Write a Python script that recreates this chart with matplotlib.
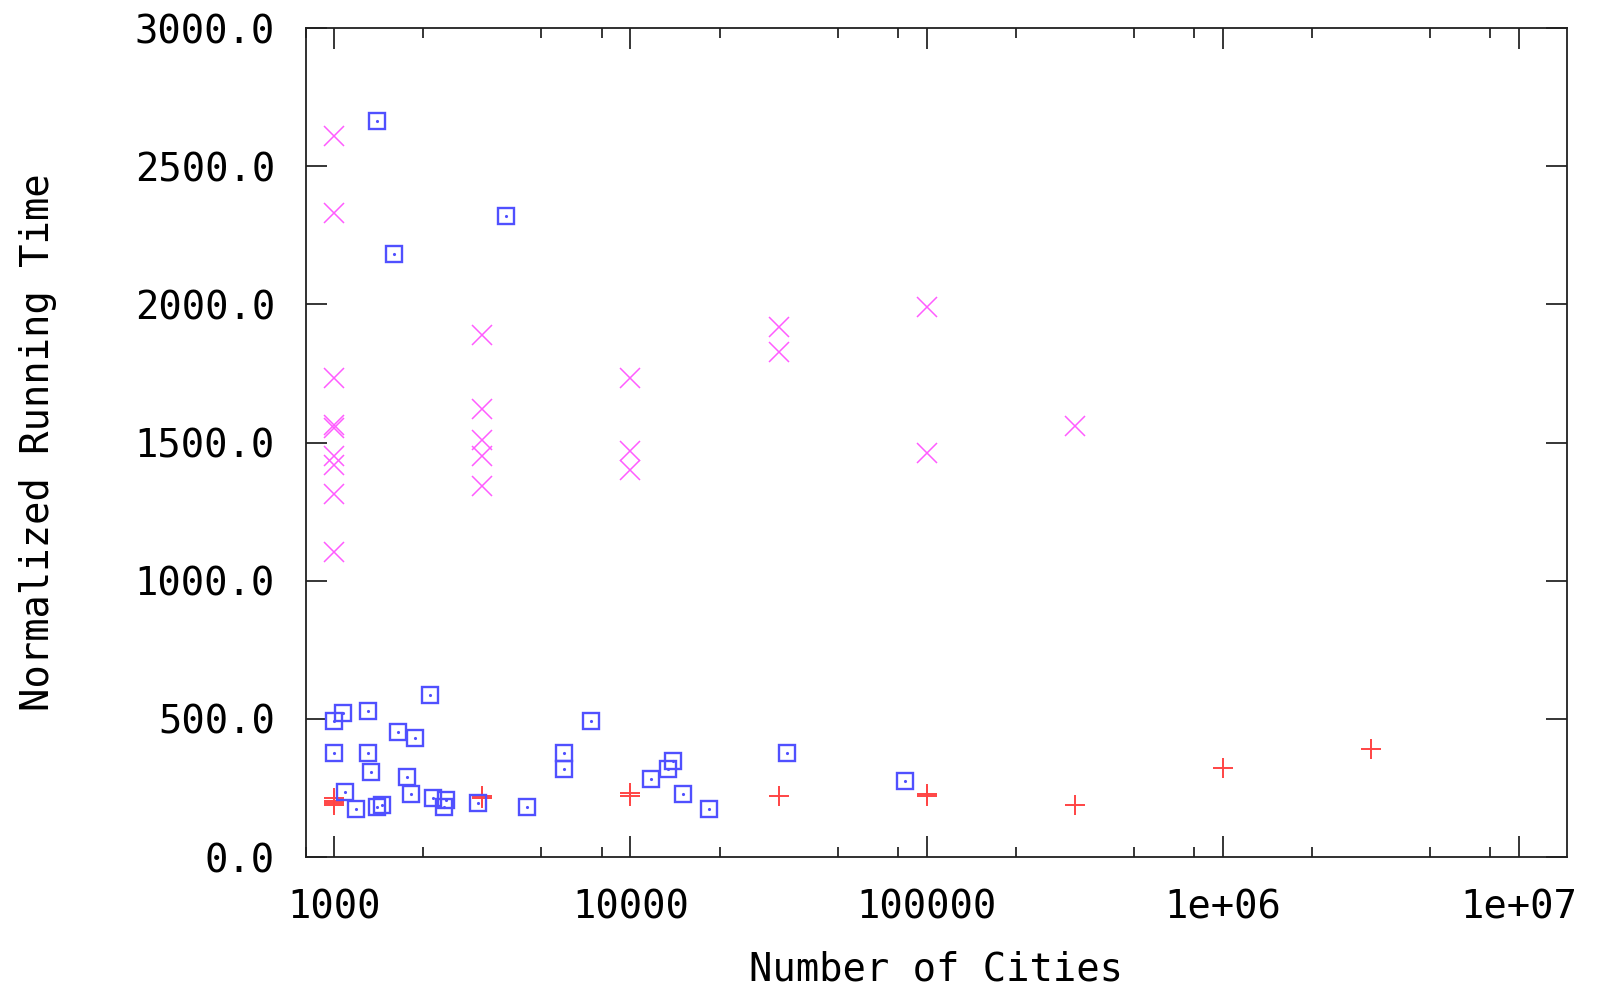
import numpy as np
import matplotlib
matplotlib.use("Agg")
import matplotlib.pyplot as plt
from matplotlib.ticker import LogLocator, FixedLocator, FixedFormatter, NullFormatter, FormatStrFormatter

# red "+" series
plus_n = [1000, 1000, 1000, 1000, 3162, 3162, 10000, 10000, 31623,
          100000, 100000, 316228, 1000000, 3162278]
plus_t = [188, 196, 204, 212, 215, 222, 222, 232, 220,
          220, 228, 190, 322, 392]

# magenta "x" series
cross_n = [1000, 1000, 1000, 1000, 1000, 1000, 1000, 1000, 1000,
           3162, 3162, 3162, 3162, 3162,
           10000, 10000, 10000,
           31623, 31623,
           100000, 100000,
           316228]
cross_t = [2608, 2331, 1732, 1553, 1562, 1453, 1417, 1314, 1104,
           1889, 1621, 1510, 1452, 1344,
           1732, 1468, 1399,
           1919, 1826,
           1989, 1461,
           1560]

# blue square series
box_n = [1396, 3790, 1597,
         1000, 1069, 1305, 2112, 1647, 1880, 1000, 1305, 1326, 1763,
         1086, 1822, 1180, 1392, 1444, 2150, 2378, 2340, 3050, 4474,
         5944, 5944, 7370, 11740, 13430, 13900, 15090, 18470, 33660, 84200]
box_t = [2662, 2320, 2182,
         491, 523, 530, 585, 453, 429, 376, 375, 306, 289,
         236, 228, 173, 182, 188, 212, 205, 181, 196, 181,
         375, 320, 491, 282, 320, 347, 228, 173, 375, 275]

xtick_vals = [1000, 10000, 100000, 1000000, 10000000]
xtick_text = ["1000", "10000", "100000", "1e+06", "1e+07"]

mono = "DejaVu Sans Mono"
fs = 28

fig = plt.figure(figsize=(15.98, 9.90), dpi=100)
ax = fig.add_axes([0.1912, 0.1343, 0.7894, 0.8374])

ax.plot(plus_n, plus_t, linestyle="none", marker="+", ms=15, mew=1.4,
        color="#ff4444")
ax.plot(cross_n, cross_t, linestyle="none", marker="x", ms=14, mew=1.1,
        color="#ff5cff")
ax.plot(box_n, box_t, linestyle="none", marker="s", ms=11.5, mew=1.7,
        mfc="none", color="#5050ff")
ax.plot(box_n, box_t, linestyle="none", marker=".", ms=2.5,
        color="#5050ff")

ax.set_xscale("log")
ax.set_xlim(800, 1.45e7)
ax.set_ylim(0, 3000)

ax.xaxis.set_major_locator(FixedLocator(xtick_vals))
ax.xaxis.set_major_formatter(FixedFormatter(xtick_text))
ax.xaxis.set_minor_locator(LogLocator(base=10, subs=[2, 5, 8]))
ax.xaxis.set_minor_formatter(NullFormatter())
ax.set_yticks(np.arange(0, 3001, 500))
ax.yaxis.set_major_formatter(FormatStrFormatter("%.1f"))

ax.tick_params(which="both", direction="in", top=True, right=True,
               color="black", width=1.1)
ax.tick_params(which="major", length=15)
ax.tick_params(which="minor", length=7)
ax.tick_params(axis="y", pad=22)
ax.tick_params(axis="x", pad=23)

for lab in ax.get_xticklabels() + ax.get_yticklabels():
    lab.set_fontfamily(mono)
    lab.set_fontsize(fs)

for s in ax.spines.values():
    s.set_linewidth(1.3)
    s.set_color("#202020")

ax.set_xlabel("Number of Cities", fontfamily=mono, fontsize=fs, labelpad=17)
ax.set_ylabel("Normalized Running Time", fontfamily=mono, fontsize=fs,
              labelpad=56)

fig.savefig("out.png", dpi=100)
